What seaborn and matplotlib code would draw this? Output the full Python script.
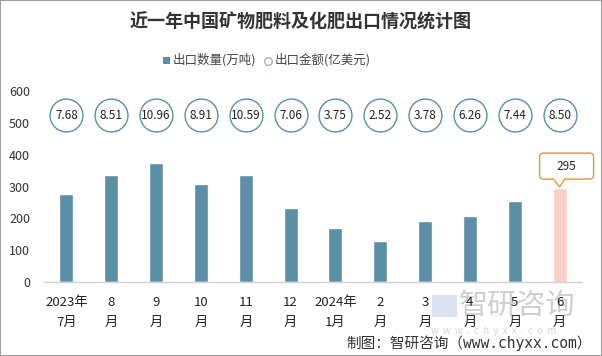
import matplotlib
matplotlib.use("Agg")
import matplotlib.pyplot as plt
import matplotlib.transforms as mtransforms
import seaborn as sns
import pandas as pd
from matplotlib.patches import FancyBboxPatch, Rectangle, Polygon

months = ["2023年\n7月", "8\n月", "9\n月", "10\n月", "11\n月", "12\n月",
          "2024年\n1月", "2\n月", "3\n月", "4\n月", "5\n月", "6\n月"]
volume = [276, 336, 373, 307, 336, 232, 170, 128, 191, 207, 254, 295]
amount = [7.68, 8.51, 10.96, 8.91, 10.59, 7.06, 3.75, 2.52, 3.78, 6.26, 7.44, 8.50]
yticks = [0, 100, 200, 300, 400, 500, 600]

sns.set_theme(style="white")
plt.rcParams['font.family'] = ['Noto Sans CJK SC', 'DejaVu Sans']

df = pd.DataFrame({"month": months, "volume": volume})
bar_color = "#5B8FA8"
colors = [bar_color] * (len(months) - 1) + ["#F8D0C8"]

fig = plt.figure(figsize=(6.02, 3.56), dpi=100)
ax = fig.add_axes([44/602, 1 - 282/356, 538/602, 191/356])

# watermark (behind everything)
fig.patches.append(Rectangle((432/602, 1 - 317/356), 25/602, 22/356, transform=fig.transFigure,
                             facecolor="#C9D7E8", edgecolor="none", alpha=0.7, zorder=-5))
fig.text(459/602, 1 - 306/356, "智研咨询", ha="left", va="center", fontsize=21,
         color="#CFCFCF", zorder=-5)
fig.text(431/602, 1 - 331/356, "w  w  w  .  c  h  y  x  x  .  c  o  m", ha="left", va="center",
         fontsize=7, color="#D5D5D5", zorder=-5)

sns.barplot(data=df, x="month", y="volume", hue="month", palette=colors,
            legend=False, ax=ax, width=0.31, saturation=1)
ax.patch.set_alpha(0)

ax.set_ylim(0, 600)
ax.set_yticks(yticks)
ax.set_yticklabels([str(v) for v in yticks], fontsize=9, color="#333333")
ax.set_xlim(-0.5, len(months) - 0.5)
ax.set_xticks(range(len(months)))
ax.set_xticklabels(months, fontsize=9.5, color="#222222", linespacing=1.75)
ax.tick_params(axis="y", length=0, pad=10)
ax.tick_params(axis="x", length=0, pad=10)
ax.set_xlabel("")
ax.set_ylabel("")
for s in ["top", "right", "left"]:
    ax.spines[s].set_visible(False)
ax.spines["bottom"].set_color("#D0D0D0")
ax.spines["bottom"].set_linewidth(1)

# circles with export amounts
for i, a in enumerate(amount):
    ax.scatter(i, 524, s=560, facecolor="white", edgecolor="#5B8FA8", linewidth=1, zorder=3)
    ax.text(i, 524, f"{a:.2f}", ha="center", va="center", fontsize=8.5, color="#222222", zorder=4)

# callout for last bar (shape in pixels/100 = inches, anchored at bar top)
last = len(months) - 1
trans = fig.dpi_scale_trans + mtransforms.ScaledTranslation(last, volume[last], ax.transData)
box = FancyBboxPatch((-0.20, 0.09), 0.54, 0.26, boxstyle="round,pad=0,rounding_size=0.04",
                     transform=trans, facecolor="white", edgecolor="#E8923A", linewidth=1,
                     zorder=5, clip_on=False)
ax.add_patch(box)
tri = Polygon([(-0.065, 0.095), (0.0, 0.01), (0.055, 0.095)], closed=False, transform=trans,
              facecolor="none", edgecolor="#E8923A", linewidth=1, zorder=6, clip_on=False)
ax.add_patch(tri)
ax.add_patch(Rectangle((-0.058, 0.085), 0.106, 0.012, transform=trans, facecolor="white",
                       edgecolor="none", zorder=6, clip_on=False))
ax.text(0.07, 0.22, str(volume[last]), transform=trans, ha="center", va="center",
        fontsize=8.5, color="#222222", zorder=7, clip_on=False)

# title
fig.text(0.5, 1 - 22/356, "近一年中国矿物肥料及化肥出口情况统计图", ha="center", va="center",
         fontsize=13, fontweight="bold", color="#333333")

# legend
fig.patches.append(Rectangle((163/602, 1 - 64/356), 7/602, 7/356, transform=fig.transFigure,
                             facecolor=bar_color, edgecolor="none"))
fig.text(173/602, 1 - 60/356, "出口数量(万吨)", ha="left", va="center", fontsize=9, color="#444444")
fig.lines.append(plt.Line2D([268/602], [1 - 61/356], transform=fig.transFigure, marker="o",
                            markersize=5.5, markerfacecolor="white", markeredgecolor="#8FB0C4",
                            markeredgewidth=0.9, linestyle="none"))
fig.text(275/602, 1 - 60/356, "出口金额(亿美元)", ha="left", va="center", fontsize=9, color="#444444")

# source
fig.text(592/602, 1 - 343/356, "制图：智研咨询（www.chyxx.com）", ha="right", va="center",
         fontsize=10.5, color="#333333", family=["DejaVu Sans Mono", "Noto Sans CJK SC"])

# border
fig.patches.append(Rectangle((0, 0), 1, 1, transform=fig.transFigure, fill=False,
                             edgecolor="#A0A0A0", linewidth=1.5))

fig.savefig("out.png", dpi=100)
